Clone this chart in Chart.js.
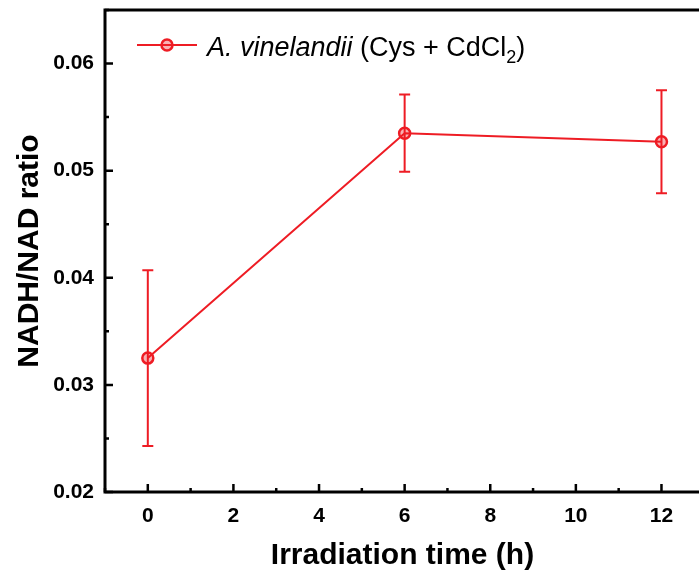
<!DOCTYPE html>
<html>
<head>
<meta charset="utf-8">
<script src="https://cdn.jsdelivr.net/npm/chart.js@4"></script>
<style>
    body { margin: 0; background: #fff; overflow: hidden; }
    #wrap { width: 708px; height: 579px; overflow: hidden; }
    #lineChart { width: 708px; height: 579px; }
</style>
</head>
<body>
<div id="wrap"><canvas id="lineChart" width="708" height="579"></canvas></div>
<script>
const times = [0, 6, 12];
const ratios = [0.0325, 0.0535, 0.0527];
const ratioErrors = [0.0082, 0.0036, 0.0048];
const xTicks = [0, 2, 4, 6, 8, 10, 12];
const yTicks = [0.02, 0.03, 0.04, 0.05, 0.06];
const seriesName = ['A. vinelandii', ' (Cys + CdCl', '2', ')'];

const red = '#ee1c24';
const font = 'Liberation Sans, Arial, sans-serif';

// error bars, inward ticks, frame and legend
const extras = {
    id: 'extras',
    afterDatasetsDraw(chart) {
        const ctx = chart.ctx;
        const xs = chart.scales.x, ys = chart.scales.y;
        ctx.save();
        ctx.strokeStyle = red;
        ctx.lineWidth = 2;
        for (let i = 0; i < times.length; i++) {
            const px = xs.getPixelForValue(times[i]);
            const top = ys.getPixelForValue(ratios[i] + ratioErrors[i]);
            const bot = ys.getPixelForValue(ratios[i] - ratioErrors[i]);
            ctx.beginPath();
            ctx.moveTo(px, top); ctx.lineTo(px, bot);
            ctx.moveTo(px - 5.5, top); ctx.lineTo(px + 5.5, top);
            ctx.moveTo(px - 5.5, bot); ctx.lineTo(px + 5.5, bot);
            ctx.stroke();
        }
        ctx.restore();
    },
    afterDraw(chart) {
        const ctx = chart.ctx;
        const a = chart.chartArea;
        const xs = chart.scales.x, ys = chart.scales.y;
        ctx.save();
        ctx.strokeStyle = '#000';
        ctx.lineWidth = 3;
        ctx.beginPath();
        ctx.moveTo(a.left, a.top); ctx.lineTo(chart.width, a.top);
        ctx.moveTo(a.left, a.top - 1.5); ctx.lineTo(a.left, a.bottom + 1.5);
        ctx.moveTo(a.left - 1.5, a.bottom); ctx.lineTo(chart.width, a.bottom);
        ctx.stroke();

        ctx.lineWidth = 2.5;
        ctx.beginPath();
        for (const v of xTicks) {
            const px = xs.getPixelForValue(v);
            ctx.moveTo(px, a.bottom); ctx.lineTo(px, a.bottom - 8);
            const m = xs.getPixelForValue(v + 1);
            ctx.moveTo(m, a.bottom); ctx.lineTo(m, a.bottom - 4);
        }
        const mx = xs.getPixelForValue(-1);
        ctx.moveTo(mx, a.bottom); ctx.lineTo(mx, a.bottom - 4);
        for (const v of yTicks) {
            const py = ys.getPixelForValue(v);
            ctx.moveTo(a.left, py); ctx.lineTo(a.left + 8, py);
            const m = ys.getPixelForValue(v + 0.005);
            ctx.moveTo(a.left, m); ctx.lineTo(a.left + 4, m);
        }
        ctx.stroke();

        // legend
        const ly = 45;
        ctx.strokeStyle = red;
        ctx.lineWidth = 2;
        ctx.beginPath();
        ctx.moveTo(137, ly); ctx.lineTo(197, ly);
        ctx.stroke();
        ctx.beginPath();
        ctx.arc(167, ly, 5.5, 0, Math.PI * 2);
        ctx.fillStyle = 'rgba(238,28,36,0.35)';
        ctx.fill();
        ctx.lineWidth = 2.5;
        ctx.stroke();

        ctx.fillStyle = '#000';
        ctx.textBaseline = 'alphabetic';
        let tx = 207;
        const base = 56;
        ctx.font = 'italic 27px ' + font;
        ctx.fillText(seriesName[0], tx, base);
        tx += ctx.measureText(seriesName[0]).width;
        ctx.font = '27px ' + font;
        ctx.fillText(seriesName[1], tx, base);
        tx += ctx.measureText(seriesName[1]).width;
        ctx.font = '18px ' + font;
        ctx.fillText(seriesName[2], tx, base + 7);
        tx += ctx.measureText(seriesName[2]).width;
        ctx.font = '27px ' + font;
        ctx.fillText(seriesName[3], tx, base);
        ctx.restore();
    }
};

const cfg = {
    type: 'line',
    data: {
        datasets: [{
            label: seriesName.join(''),
            data: times.map((t, i) => ({ x: t, y: ratios[i] })),
            borderColor: red,
            borderWidth: 2,
            pointRadius: 5.5,
            pointBorderWidth: 2.5,
            pointBackgroundColor: 'rgba(238,28,36,0.35)',
            pointBorderColor: red,
            tension: 0,
            fill: false
        }]
    },
    options: {
        responsive: false,
        animation: false,
        layout: { padding: { top: 10, right: 1, left: 0, bottom: 0 } },
        plugins: {
            legend: { display: false },
            tooltip: { enabled: false }
        },
        scales: {
            x: {
                type: 'linear',
                min: -1,
                max: 12.9,
                grid: { display: false, drawTicks: false },
                border: { display: false },
                afterBuildTicks: s => { s.ticks = xTicks.map(v => ({ value: v })); },
                afterFit: s => { s.height = 87; s.paddingLeft = 0; s.paddingRight = 0; },
                ticks: {
                    padding: 12,
                    color: '#000',
                    font: { family: font, size: 21, weight: 'bold' },
                    callback: v => String(v)
                },
                title: {
                    display: true,
                    text: 'Irradiation time (h)',
                    color: '#000',
                    padding: { top: 5.5, bottom: 5.5 },
                    font: { family: font, size: 30, weight: 'bold' }
                }
            },
            y: {
                min: 0.02,
                max: 0.065,
                grid: { display: false, drawTicks: false },
                border: { display: false },
                afterBuildTicks: s => { s.ticks = yTicks.map(v => ({ value: v })); },
                afterFit: s => { s.width = 105; s.paddingTop = 0; s.paddingBottom = 0; },
                ticks: {
                    padding: 11,
                    color: '#000',
                    font: { family: font, size: 21, weight: 'bold' },
                    callback: v => v.toFixed(2)
                },
                title: {
                    display: true,
                    text: 'NADH/NAD ratio',
                    color: '#000',
                    padding: { top: 11.5, bottom: 11.5 },
                    font: { family: font, size: 30, weight: 'bold' }
                }
            }
        }
    },
    plugins: [extras]
};

new Chart(document.getElementById('lineChart'), cfg);
</script>
</body>
</html>
